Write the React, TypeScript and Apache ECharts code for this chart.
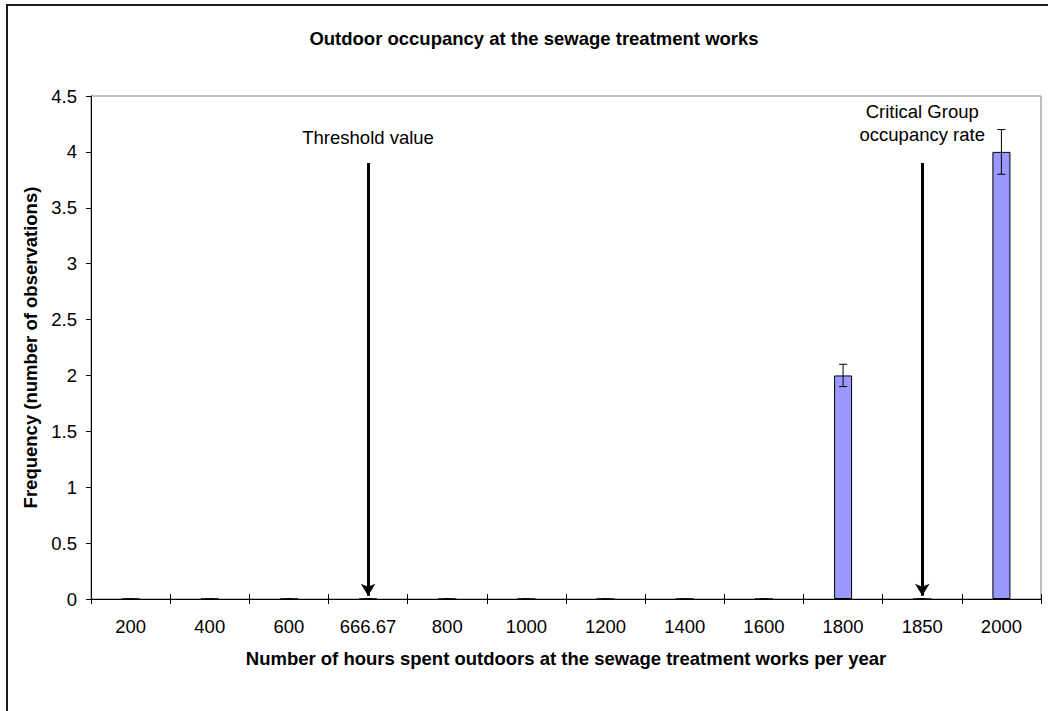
import React, { useEffect, useRef } from "react";
import * as echarts from "echarts";

const categories = ["200", "400", "600", "666.67", "800", "1000", "1200", "1400", "1600", "1800", "1850", "2000"];
const frequency = [0, 0, 0, 0, 0, 0, 0, 0, 0, 2, 0, 4];
const errorAmount = [0, 0, 0, 0, 0, 0, 0, 0, 0, 0.1, 0, 0.2];
const markerCategories = ["666.67", "1850"];
const markerLabels = ["Threshold value", "Critical Group\noccupancy rate"];
const markerTop = [3.9, 3.9];
const markerBottom = [0.03, 0.03];
const markerLabelDistance = [14, 17];

const FONT = "'Liberation Sans', Arial, sans-serif";
const FS = 18.5;

export default function App() {
  const ref = useRef<HTMLDivElement>(null);
  useEffect(() => {
    document.body.style.margin = "0";
    document.body.style.overflow = "hidden";
    const chart = echarts.init(ref.current!, null, { renderer: "svg" });
    const axisLabelStyle = { color: "#000", fontSize: FS, fontFamily: FONT };
    const option: any = {
      animation: false,
      backgroundColor: "#fff",
      title: {
        text: "Outdoor occupancy at the sewage treatment works",
        left: 529,
        top: 24,
        textAlign: "center",
        textStyle: { color: "#000", fontSize: FS, fontWeight: "bold", fontFamily: FONT },
      },
      graphic: [
        {
          type: "rect",
          shape: { x: 7, y: 5, width: 2000, height: 2000 },
          style: { fill: "none", stroke: "#1a1a1a", lineWidth: 2 },
          silent: true,
        },
      ],
      grid: {
        left: 91,
        top: 96,
        right: 7,
        bottom: 112,
        show: true,
        borderColor: "#808080",
        borderWidth: 1,
        backgroundColor: "transparent",
      },
      xAxis: [
        {
          type: "category",
          data: categories,
          boundaryGap: true,
          axisLine: { show: true, lineStyle: { color: "#000", width: 1 } },
          axisTick: { show: true, inside: false, length: 5, lineStyle: { color: "#000" } },
          axisLabel: { ...axisLabelStyle, margin: 18, interval: 0 },
          name: "Number of hours spent outdoors at the sewage treatment works per year",
          nameLocation: "middle",
          nameGap: 50,
          nameTextStyle: { color: "#000", fontSize: FS, fontWeight: "bold", fontFamily: FONT },
          splitLine: { show: false },
        },
        {
          type: "category",
          data: categories,
          position: "bottom",
          boundaryGap: true,
          axisLine: { show: false },
          axisTick: { show: true, inside: true, length: 5, lineStyle: { color: "#000" } },
          axisLabel: { show: false },
          splitLine: { show: false },
        },
      ],
      yAxis: {
        type: "value",
        min: 0,
        max: 4.5,
        interval: 0.5,
        axisLine: { show: true, lineStyle: { color: "#000", width: 1 } },
        axisTick: { show: true, inside: false, length: 5, lineStyle: { color: "#000" } },
        axisLabel: { ...axisLabelStyle, margin: 14 },
        splitLine: { show: false },
        name: "Frequency (number of observations)",
        nameLocation: "middle",
        nameGap: 50,
        nameTextStyle: { color: "#000", fontSize: FS, fontWeight: "bold", fontFamily: FONT },
      },
      series: [
        {
          type: "bar",
          data: frequency,
          barWidth: 18,
          itemStyle: { color: "#9999FF", borderColor: "#000", borderWidth: 1 },
          silent: true,
          markLine: {
            silent: true,
            animation: false,
            symbol: ["none", "arrow"],
            symbolSize: [11, 12],
            lineStyle: { color: "#000", width: 3, type: "solid" },
            label: {
              show: true,
              position: "start",
              distance: 14,
              color: "#000",
              fontSize: FS,
              fontFamily: FONT,
              lineHeight: 23,
              align: "center",
            },
            data: markerCategories.map((c, i) => [
              {
                coord: [c, markerTop[i]],
                label: { formatter: markerLabels[i], distance: markerLabelDistance[i] },
              },
              { coord: [c, markerBottom[i]] },
            ]),
          },
        },
        {
          type: "custom",
          silent: true,
          z: 5,
          data: categories.map((c, i) => [i, frequency[i], errorAmount[i]]),
          renderItem: (params: any, api: any) => {
            const x = api.value(0);
            const v = api.value(1);
            const e = api.value(2);
            const hi = api.coord([x, v + e]);
            const lo = api.coord([x, v - e]);
            const w = 4;
            const style = { stroke: "#000", lineWidth: 1 };
            return {
              type: "group",
              children: [
                { type: "line", shape: { x1: hi[0], y1: hi[1], x2: lo[0], y2: lo[1] }, style },
                { type: "line", shape: { x1: hi[0] - w, y1: hi[1], x2: hi[0] + w, y2: hi[1] }, style },
                { type: "line", shape: { x1: lo[0] - w, y1: lo[1], x2: lo[0] + w, y2: lo[1] }, style },
              ],
            };
          },
        },
      ],
    };
    chart.setOption(option);
    return () => chart.dispose();
  }, []);
  return <div ref={ref} style={{ width: 1048, height: 711 }} />;
}
